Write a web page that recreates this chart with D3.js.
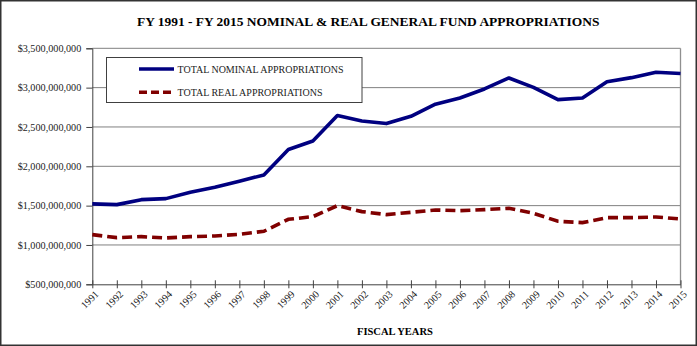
<!DOCTYPE html>
<html><head><meta charset="utf-8">
<script src="https://cdn.jsdelivr.net/npm/d3@7"></script>
<style>body{margin:0;background:#fff}svg{display:block}</style>
</head><body>
<script>
const years = [1991,1992,1993,1994,1995,1996,1997,1998,1999,2000,2001,2002,2003,2004,2005,2006,2007,2008,2009,2010,2011,2012,2013,2014,2015];
const nominal = [1522e6,1513e6,1576e6,1589e6,1670e6,1733e6,1810e6,1890e6,2213e6,2322e6,2645e6,2576e6,2543e6,2636e6,2789e6,2869e6,2983e6,3123e6,3004e6,2847e6,2869e6,3076e6,3127e6,3195e6,3180e6];
const real = [1131e6,1093e6,1106e6,1089e6,1106e6,1114e6,1136e6,1174e6,1326e6,1360e6,1500e6,1424e6,1386e6,1415e6,1445e6,1436e6,1449e6,1466e6,1403e6,1301e6,1284e6,1347e6,1347e6,1356e6,1330e6];
const yTicks = [500e6,1000e6,1500e6,2000e6,2500e6,3000e6,3500e6];
const seriesNames = ["TOTAL NOMINAL APPROPRIATIONS","TOTAL REAL APPROPRIATIONS"];
const title = "FY 1991 - FY 2015 NOMINAL & REAL GENERAL FUND APPROPRIATIONS";
const xTitle = "FISCAL YEARS";

const W=697,H=346;
const svg=d3.select("body").append("svg").attr("width",W).attr("height",H);
const font="'Liberation Serif','Times New Roman',serif";
svg.append("rect").attr("x",0.75).attr("y",0.75).attr("width",W-1.5).attr("height",H-1.5).attr("fill","#fff").attr("stroke","#333").attr("stroke-width",1.5);

const L=92.3,R=680.5,T=48.3,B=284.3;
const x=d3.scalePoint().domain(years).range([L,R]);
const y=d3.scaleLinear().domain([500e6,3500e6]).range([B,T]);

svg.append("g").selectAll("line").data(yTicks.slice(1)).join("line")
  .attr("x1",L).attr("x2",R).attr("y1",d=>y(d)).attr("y2",d=>y(d))
  .attr("stroke","#808080").attr("stroke-width",1);
svg.append("line").attr("x1",R).attr("x2",R).attr("y1",T).attr("y2",B).attr("stroke","#909090").attr("stroke-width",1.3);

const fmt=d=>"$"+d3.format(",")(d);
const ya=svg.append("g").attr("transform",`translate(${L},0)`)
  .call(d3.axisLeft(y).tickValues(yTicks).tickFormat(fmt).tickSizeOuter(0).tickSize(6).tickPadding(5));
ya.select(".domain").attr("stroke","#404040");
ya.selectAll(".tick line").attr("stroke","#404040");
ya.selectAll("text").attr("font-family",font).attr("font-size",10.2).attr("fill","#222");

const xa=svg.append("g").attr("transform",`translate(0,${B})`)
  .call(d3.axisBottom(x).tickSizeInner(4).tickSizeOuter(0));
xa.select(".domain").attr("stroke","#404040");
xa.selectAll(".tick line").attr("stroke","#404040").attr("y1",-4).attr("y2",4);
xa.selectAll("text").attr("font-family",font).attr("font-size",10.2).attr("fill","#222")
  .attr("x",0).attr("y",0).attr("text-anchor","end").attr("dy","0.35em")
  .attr("transform","translate(4,8) rotate(-45)");

const line=d3.line().x((d,i)=>x(years[i])).y(d=>y(d));
svg.append("path").datum(real).attr("d",line).attr("fill","none").attr("stroke","#800000")
  .attr("stroke-width",3.6).attr("stroke-dasharray","10,5");
svg.append("path").datum(nominal).attr("d",line).attr("fill","none").attr("stroke","#000080")
  .attr("stroke-width",3.6).attr("stroke-linejoin","round");

const lg=svg.append("g");
lg.append("rect").attr("x",106.5).attr("y",57.5).attr("width",255.5).attr("height",45).attr("fill","#fff").attr("stroke","#404040");
const cols=["#000080","#800000"],dashes=[null,"8,4"],ly=[69,92.3];
seriesNames.forEach((n,i)=>{
  lg.append("line").attr("x1",139).attr("x2",174).attr("y1",ly[i]).attr("y2",ly[i])
    .attr("stroke",cols[i]).attr("stroke-width",3.4).attr("stroke-dasharray",dashes[i]);
  lg.append("text").attr("x",177.5).attr("y",ly[i]).attr("dy","0.35em")
    .attr("font-family",font).attr("font-size",10).attr("fill","#222").text(n);
});

function fitText(txt,x0,w,yb,size){
  const t=svg.append("text").attr("x",x0).attr("y",yb).attr("text-anchor","start")
    .attr("font-family",font).attr("font-weight","bold").attr("font-size",size).text(txt);
  const cw=t.node().getComputedTextLength();
  if(cw>0){ t.attr("font-size",size*w/cw); }
  return t;
}
fitText(title,137,463,26,13);
fitText(xTitle,357,76,335,10.5);
</script>
</body></html>
